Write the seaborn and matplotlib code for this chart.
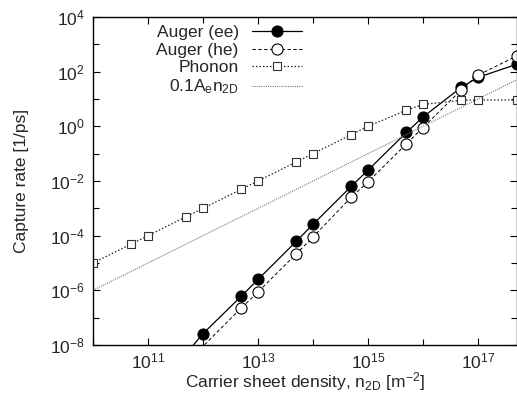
import matplotlib
matplotlib.use("Agg")
import matplotlib.pyplot as plt
import seaborn as sns
from matplotlib.ticker import FixedLocator, LogLocator, NullFormatter

# carrier sheet density [m^-2]
density = [1e10, 5e10, 1e11, 5e11, 1e12, 5e12, 1e13, 5e13,
           1e14, 5e14, 1e15, 5e15, 1e16, 5e16, 1e17, 5e17]
density_auger = density[3:]

# capture rates [1/ps]
auger_ee = [5e-9, 2.6e-8, 6.2e-7, 2.5e-6, 6.3e-5, 2.6e-4, 6.5e-3,
            2.5e-2, 0.6, 2.2, 27, 62, 185]
auger_he = [1.5e-9, 9e-9, 2.3e-7, 8.7e-7, 2.2e-5, 8.9e-5, 2.6e-3,
            9.3e-3, 0.23, 0.9, 22, 75, 370]
phonon = [1e-5, 5e-5, 1e-4, 5e-4, 1e-3, 5e-3, 1e-2, 5e-2,
          1e-1, 5e-1, 1.0, 3.9, 6.3, 9.0, 9.2, 9.2]
line_x = [1e10, 5e17]
line_y = [1e-6, 50]

x_major = [1e11, 1e13, 1e15, 1e17]

sns.set_style("ticks")
plt.rcParams["font.family"] = ["Liberation Sans", "DejaVu Sans"]
plt.rcParams["mathtext.fontset"] = "custom"
plt.rcParams["mathtext.rm"] = "Liberation Sans"
plt.rcParams["mathtext.it"] = "Liberation Sans"
plt.rcParams["mathtext.default"] = "regular"
plt.rcParams["axes.unicode_minus"] = False
fs = 12.5

fig = plt.figure(figsize=(5.17, 3.99), dpi=100)
ax = fig.add_axes([93 / 517, 1 - 345 / 399, 423.5 / 517, 328 / 399])
ax.set_xscale("log")
ax.set_yscale("log")

ymin = 1e-8
vis = lambda ys: [i for i, v in enumerate(ys) if v >= ymin]

sns.lineplot(x=density_auger, y=auger_ee, ax=ax, color="black", lw=0.9,
             marker="o", ms=8, mfc="black", mec="black",
             markevery=vis(auger_ee), label="Auger (ee)")
sns.lineplot(x=density_auger, y=auger_he, ax=ax, color="black", lw=0.7,
             dashes=(3.5, 2.5), marker="o", ms=8, mfc="white", mec="black",
             mew=0.8, markevery=vis(auger_he), label="Auger (he)")
sns.lineplot(x=density, y=phonon, ax=ax, color="#222222", lw=0.9,
             dashes=(1.2, 1.6), marker="s", ms=5.2, mfc="white", mec="#333333",
             mew=0.8, label="Phonon")
sns.lineplot(x=line_x, y=line_y, ax=ax, color="#777777", lw=0.8,
             dashes=(1, 1), label="0.1A$_e$n$_{2D}$")

ax.set_xlim(1e10, 5e17)
ax.set_ylim(1e-8, 1e4)

ax.xaxis.set_major_locator(FixedLocator(x_major))
ax.xaxis.set_minor_locator(LogLocator(base=10, subs=(1.0,), numticks=20))
ax.xaxis.set_minor_formatter(NullFormatter())
ax.yaxis.set_major_locator(LogLocator(base=100, numticks=20))
ax.yaxis.set_minor_locator(LogLocator(base=10, subs=(1.0,), numticks=20))
ax.yaxis.set_minor_formatter(NullFormatter())

ax.tick_params(which="both", direction="in", top=True, right=True,
               labelsize=fs, color="black")
ax.tick_params(which="major", length=5, width=0.8)
ax.tick_params(which="minor", length=4, width=0.8)
ax.tick_params(axis="x", pad=5)
ax.tick_params(axis="y", pad=6)
for s in ax.spines.values():
    s.set_linewidth(1.0)
    s.set_color("black")

ax.set_xlabel("Carrier sheet density, n$_{2D}$ [m$^{-2}$]",
              fontsize=fs, labelpad=-1)
ax.set_ylabel("Capture rate [1/ps]", fontsize=fs, labelpad=15)

leg = ax.legend(loc="upper right", bbox_to_anchor=(302 / 517, 1 - 25 / 399),
                bbox_transform=fig.transFigure, frameon=False, markerfirst=False,
                fontsize=fs, handlelength=2.9, handletextpad=0.75,
                labelspacing=0.14, borderpad=0, borderaxespad=0)

fig.savefig("out.png", dpi=100)
